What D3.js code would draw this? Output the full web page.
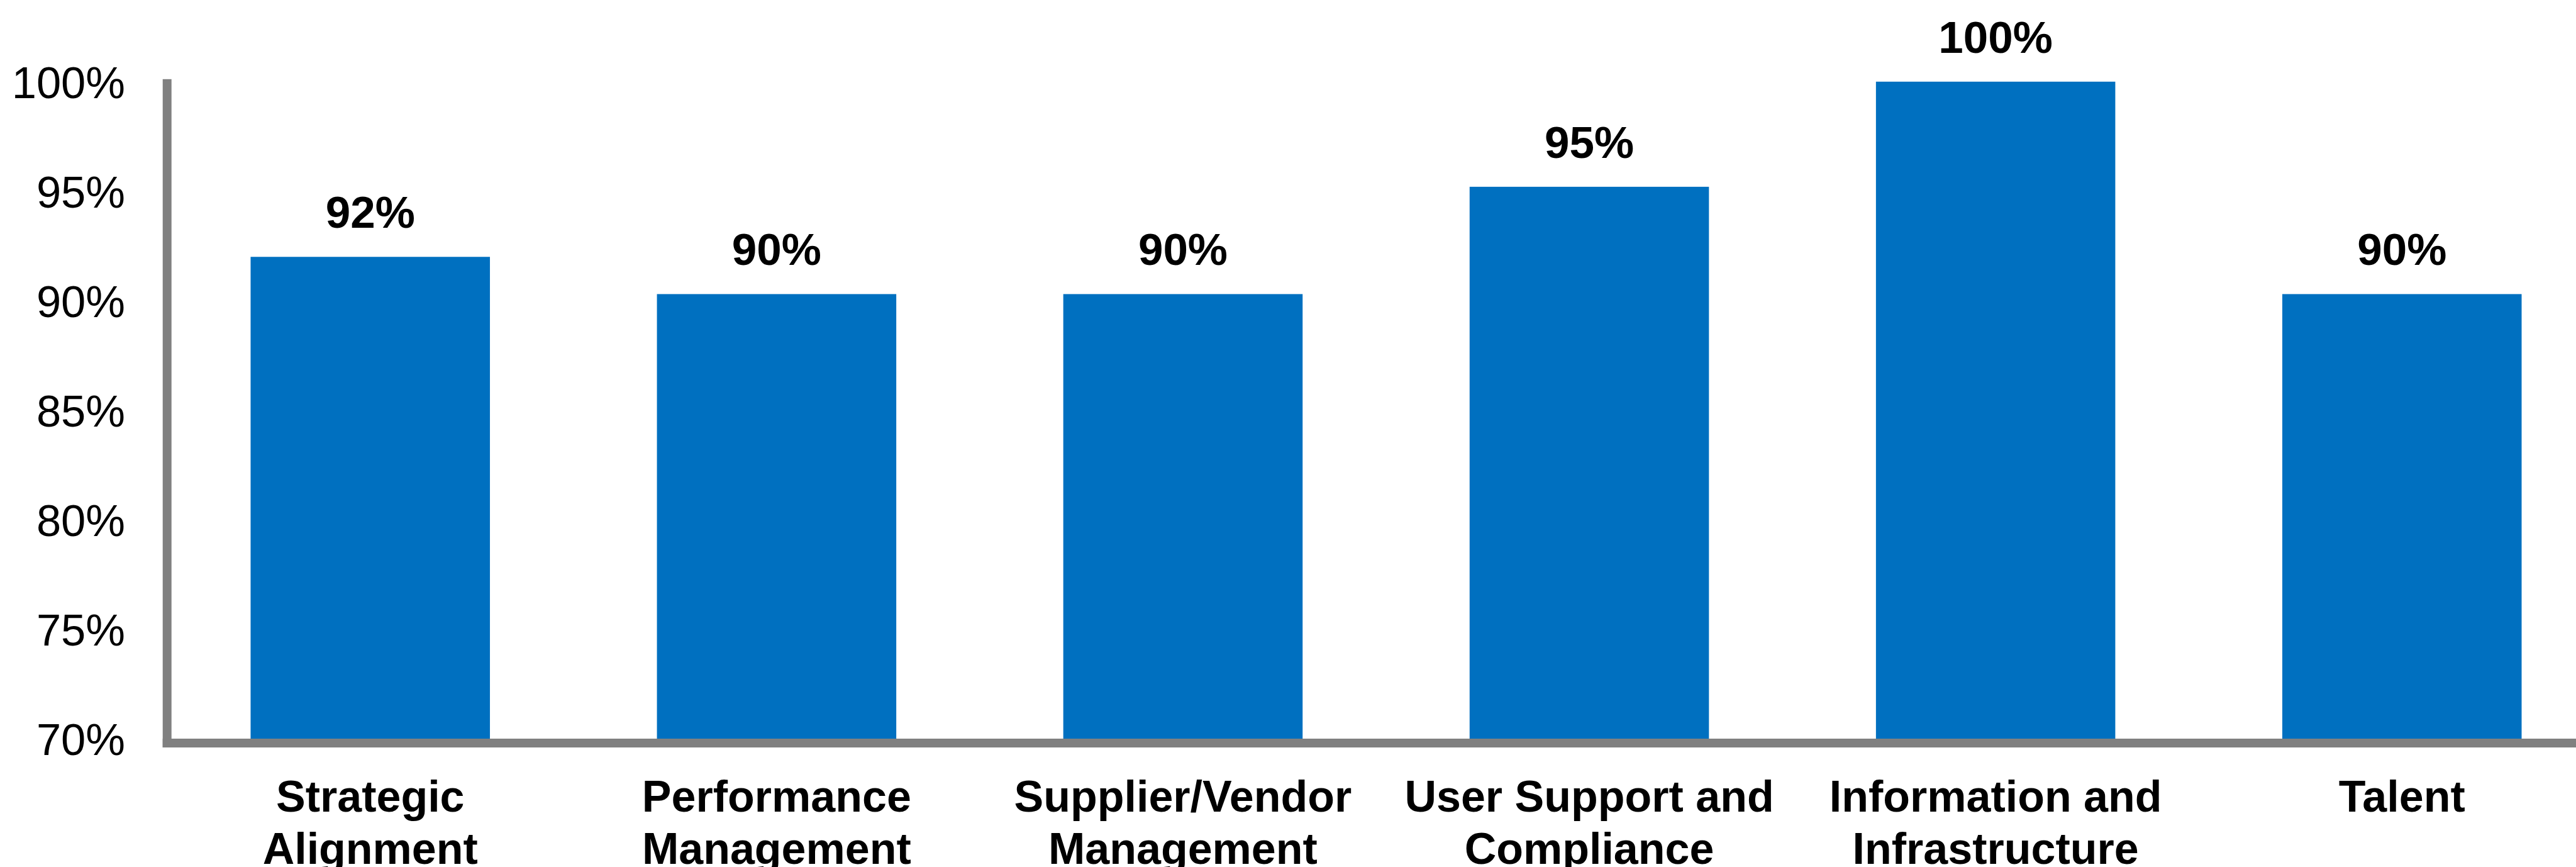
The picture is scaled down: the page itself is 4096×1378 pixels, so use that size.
<!DOCTYPE html>
<html>
<head>
<meta charset="utf-8">
<script src="https://cdn.jsdelivr.net/npm/d3@7"></script>
<style>
  html, body { margin: 0; padding: 0; background: #fff; }
  svg { display: block; }
  text { font-family: "Liberation Sans", Arial, sans-serif; fill: #000; }
</style>
</head>
<body>
<svg width="4096" height="1378"></svg>
<script>
// chart data
var categories = [
  ["Strategic", "Alignment"],
  ["Performance", "Management"],
  ["Supplier/Vendor", "Management"],
  ["User Support and", "Compliance"],
  ["Information and", "Infrastructure"],
  ["Talent"]
];
var values = [0.92, 0.903, 0.903, 0.952, 1.00, 0.903];
var tickValues = [0.70, 0.75, 0.80, 0.85, 0.90, 0.95, 1.00];
var tickLabels = ["70%", "75%", "80%", "85%", "90%", "95%", "100%"];

var svg = d3.select("svg"),
  width = +svg.attr("width"),
  height = +svg.attr("height");

var left = 265.7, step = 646.1;
var keys = categories.map(function (d) { return d.join(" "); });

var x = d3.scaleBand()
  .domain(keys)
  .range([left, left + step * keys.length])
  .paddingInner(0.411)
  .paddingOuter(0.2055);

var y = d3.scaleLinear().domain([0.70, 1.00]).range([1174, 129.8]);

var fmt = d3.format(".0%");

// bars
svg.selectAll(".bar")
  .data(values)
  .enter().append("rect")
  .attr("class", "bar")
  .attr("x", function (d, i) { return x(keys[i]); })
  .attr("y", function (d) { return y(d); })
  .attr("width", x.bandwidth())
  .attr("height", function (d) { return y(0.70) - y(d); })
  .attr("fill", "#0070C0");

// value labels
svg.selectAll(".val")
  .data(values)
  .enter().append("text")
  .attr("class", "val")
  .attr("x", function (d, i) { return x(keys[i]) + x.bandwidth() / 2; })
  .attr("y", function (d) { return y(d) - 46; })
  .attr("text-anchor", "middle")
  .style("font-size", "71px")
  .style("font-weight", "bold")
  .text(function (d) { return fmt(d); });

// y axis (labels only, no ticks)
var yAxis = svg.append("g")
  .attr("transform", "translate(199,0)")
  .call(d3.axisLeft(y).tickValues(tickValues).tickSize(0).tickPadding(0)
    .tickFormat(function (d, i) { return tickLabels[i]; }));
yAxis.select(".domain").remove();
yAxis.selectAll("text")
  .attr("font-family", null)
  .style("font-size", "70.5px")
  .attr("dy", "0.36em");

// axis lines
var axisW = 14;
svg.append("rect")
  .attr("x", left - axisW / 2)
  .attr("y", y(1.00) - 4)
  .attr("width", axisW)
  .attr("height", y(0.70) - y(1.00) + 4 + axisW)
  .attr("fill", "#808080");
svg.append("rect")
  .attr("x", left - axisW / 2)
  .attr("y", y(0.70))
  .attr("width", width - left + axisW)
  .attr("height", axisW)
  .attr("fill", "#808080");

// category labels
var cat = svg.selectAll(".cat")
  .data(categories)
  .enter().append("text")
  .attr("class", "cat")
  .attr("text-anchor", "middle")
  .style("font-size", "70px")
  .style("font-weight", "bold");
cat.selectAll("tspan")
  .data(function (d, i) { return d.map(function (t) { return { t: t, k: keys[i] }; }); })
  .enter().append("tspan")
  .attr("x", function (d) { return x(d.k) + x.bandwidth() / 2; })
  .attr("y", function (d, j) { return 1289.5 + j * 83.6; })
  .text(function (d) { return d.t; });
</script>
</body>
</html>
